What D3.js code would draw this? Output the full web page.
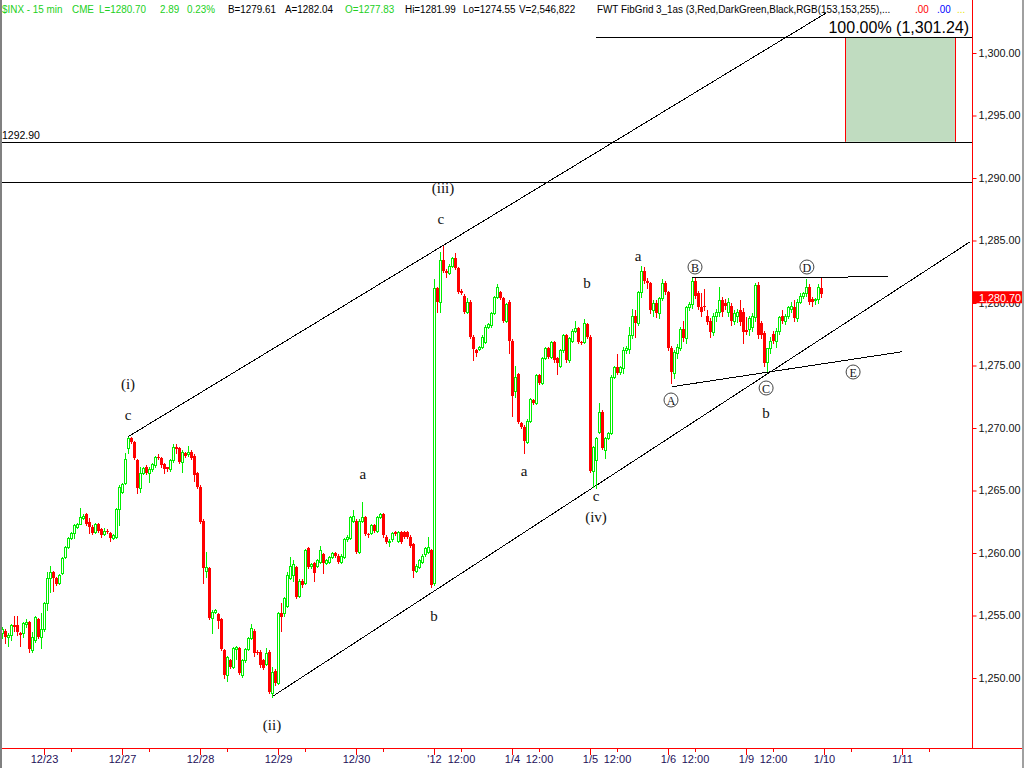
<!DOCTYPE html>
<html><head><meta charset="utf-8">
<script src="https://cdn.jsdelivr.net/npm/d3@7"></script>
<style>
body{margin:0;background:#fff}
svg{display:block;background:#fff}
text{font-family:"Liberation Sans",Arial,sans-serif}
.serif{font-family:"Liberation Serif","Times New Roman",serif}
</style>
</head><body>
<svg id="chart" width="1024" height="768"></svg>
<script>
// ---------- DATA (15-min bars, $INX, 12/22/2011 .. 1/9/2012) ----------
const opens = [
1253.6,1253.8,1253.3,1253.4,1254.2,1254.2,1253.6,1253.6,1254.3,1254.5,
1252.2,1253.0,1254.7,1253.3,1253.9,1256.0,1258.0,1258.5,1258.0,1257.6,
1258.4,1259.7,1260.5,1261.2,1261.6,1262.1,1262.3,1262.8,1263.1,1262.5,
1262.1,1261.7,1262.3,1261.9,1261.5,1261.8,1261.6,1261.2,1261.3,1263.5,
1264.9,1265.6,1268.4,1269.2,1268.9,1267.4,1265.2,1266.4,1266.9,1266.4,
1266.7,1267.0,1267.7,1267.6,1267.1,1266.85,1266.7,1267.4,1268.5,1268.4,
1267.3,1268.0,1267.9,1268.1,1267.8,1266.4,1265.3,1262.6,1258.6,1258.8,
1254.8,1255.3,1255.1,1254.7,1252.2,1250.2,1251.4,1250.9,1252.3,1252.4,
1250.2,1251.4,1252.3,1253.2,1253.8,1252.1,1252.1,1251.4,1251.1,1252.1,
1248.8,1250.6,1249.6,1255.2,1255.2,1255.8,1258.0,1258.2,1258.9,1256.6,
1257.8,1257.6,1260.4,1258.96,1259.2,1259.0,1259.3,1259.9,1259.2,1259.3,
1259.7,1260.0,1259.8,1259.3,1259.7,1261.1,1261.2,1262.6,1262.6,1260.1,
1262.6,1262.9,1261.5,1261.6,1262.2,1261.8,1262.9,1263.1,1261.3,1260.9,
1261.1,1261.65,1261.0,1261.7,1261.7,1261.7,1261.3,1260.7,1258.6,1258.9,
1259.3,1259.9,1260.1,1260.2,1257.6,1281.2,1280.1,1283.4,1282.6,1282.4,
1283.0,1283.6,1282.8,1281.0,1280.6,1279.3,1280.1,1277.3,1276.2,1276.3,
1276.5,1276.9,1278.1,1278.2,1279.2,1280.5,1280.9,1280.4,1278.6,1280.1,
1277.0,1273.0,1274.3,1270.4,1270.1,1268.9,1270.6,1272.2,1272.0,1274.2,
1273.6,1275.6,1276.4,1275.7,1276.9,1275.6,1275.0,1276.2,1277.4,1275.4,
1277.0,1277.8,1278.0,1276.9,1276.9,1278.3,1277.3,1266.6,1267.4,1269.7,
1271.3,1268.2,1269.2,1269.6,1274.1,1274.9,1274.5,1274.8,1276.2,1276.3,
1277.4,1279.0,1278.4,1280.9,1282.6,1281.8,1281.6,1279.4,1280.0,1279.2,
1280.4,1281.6,1280.9,1276.4,1274.4,1276.0,1276.4,1277.9,1277.2,1279.7,
1279.9,1281.8,1280.8,1279.7,1279.8,1279.0,1278.6,1277.7,1279.0,1279.3,
1280.2,1280.0,1279.3,1279.8,1278.6,1279.0,1279.4,1279.3,1277.83,1277.9,
1278.1,1278.9,1281.4,1278.4,1277.6,1275.3,1276.4,1277.5,1277.0,1277.8,
1279.0,1278.6,1279.0,1279.5,1279.7,1278.8,1280.1,1280.6,1280.8,1281.3,
1280.3,1280.2,1280.3,1281.2];
const highs = [
1254.1,1253.9,1253.6,1254.3,1255.0,1255.0,1253.7,1254.5,1254.7,1254.6,
1253.7,1255.0,1254.8,1255.2,1256.1,1258.5,1259.0,1258.6,1258.1,1258.3,
1259.7,1260.6,1261.3,1261.7,1262.3,1262.4,1263.6,1263.1,1263.2,1262.8,
1262.2,1262.4,1262.4,1262.0,1262.0,1261.9,1261.7,1261.5,1263.6,1265.4,
1265.6,1268.0,1269.3,1269.3,1269.0,1267.5,1266.9,1266.9,1267.0,1266.9,
1267.2,1267.8,1267.9,1267.7,1267.2,1266.9,1267.5,1268.7,1268.7,1268.5,
1268.2,1268.1,1268.6,1268.2,1267.9,1266.5,1265.4,1262.7,1260.1,1258.9,
1255.4,1255.5,1255.2,1254.8,1252.3,1251.8,1251.5,1252.5,1252.6,1252.5,
1251.5,1252.4,1253.3,1254.3,1253.9,1252.2,1252.2,1251.5,1252.4,1252.2,
1250.9,1250.7,1255.3,1256.0,1256.5,1258.5,1259.7,1259.4,1259.0,1257.9,
1257.9,1260.3,1260.5,1259.2,1259.3,1259.5,1260.6,1260.0,1259.5,1259.8,
1260.1,1260.1,1259.9,1259.9,1261.2,1261.4,1263.0,1263.4,1262.7,1262.7,
1264.1,1263.0,1261.6,1262.3,1262.3,1263.0,1263.2,1263.2,1261.4,1261.1,
1261.7,1261.8,1261.8,1261.8,1261.8,1261.8,1261.4,1260.8,1259.1,1259.5,
1259.9,1260.5,1261.3,1260.3,1281.9,1281.3,1284.1,1284.6,1282.7,1283.1,
1283.7,1284.0,1282.9,1281.1,1280.7,1280.4,1280.2,1277.4,1276.3,1276.6,
1277.4,1278.2,1278.4,1279.3,1280.6,1281.5,1281.0,1280.5,1280.0,1280.2,
1277.1,1275.0,1274.4,1270.5,1270.2,1270.7,1272.4,1272.3,1274.3,1274.3,
1275.7,1276.5,1276.5,1277.0,1277.0,1275.7,1276.3,1277.5,1277.5,1277.3,
1277.9,1278.6,1278.1,1277.0,1278.7,1278.4,1277.4,1268.6,1269.3,1272.0,
1271.4,1269.3,1269.7,1274.2,1275.0,1275.9,1275.0,1276.5,1276.6,1278.1,
1279.5,1279.4,1281.0,1283.0,1282.9,1282.0,1281.7,1280.2,1280.2,1280.5,
1281.9,1281.8,1281.0,1276.6,1276.2,1276.7,1278.1,1278.6,1279.8,1280.1,
1282.0,1282.0,1281.0,1280.8,1281.1,1279.4,1278.8,1279.2,1279.5,1281.3,
1280.5,1280.3,1280.4,1280.0,1279.4,1279.5,1280.2,1279.6,1278.9,1279.0,
1279.2,1281.6,1281.7,1278.6,1277.8,1276.4,1277.3,1277.8,1278.0,1279.0,
1279.4,1279.1,1279.8,1280.1,1280.2,1280.3,1280.8,1280.9,1281.9,1281.5,
1280.5,1280.4,1281.5,1281.99];
const lows = [
1253.2,1252.8,1252.6,1253.0,1253.8,1253.4,1252.6,1253.3,1254.1,1252.1,
1252.1,1252.9,1253.2,1252.4,1253.8,1255.4,1256.9,1257.0,1257.4,1257.5,
1258.3,1259.6,1260.4,1261.1,1261.2,1262.0,1262.3,1262.7,1262.2,1261.6,
1261.5,1261.6,1261.7,1261.3,1261.4,1261.6,1261.0,1261.1,1261.2,1262.2,
1264.8,1265.5,1268.0,1268.8,1267.5,1264.8,1264.9,1266.3,1266.3,1265.7,
1266.6,1266.9,1267.5,1266.9,1266.4,1266.6,1266.6,1267.3,1268.0,1267.2,
1266.5,1267.7,1267.8,1267.5,1265.8,1265.2,1262.4,1257.6,1258.1,1254.7,
1253.6,1255.2,1254.0,1252.2,1250.0,1249.8,1250.8,1250.8,1251.5,1250.3,
1250.1,1251.3,1252.2,1253.1,1251.8,1251.9,1250.9,1250.7,1251.0,1248.8,
1248.5,1249.4,1249.5,1253.8,1255.0,1255.7,1257.9,1257.8,1256.4,1256.5,
1257.3,1257.5,1258.8,1258.8,1257.8,1258.9,1259.2,1258.4,1259.1,1259.2,
1259.6,1259.7,1259.2,1259.2,1259.6,1261.0,1261.1,1262.5,1260.0,1260.0,
1262.5,1261.4,1261.3,1261.5,1261.7,1261.7,1262.8,1261.3,1260.8,1260.6,
1261.0,1261.4,1260.9,1260.8,1261.2,1261.2,1260.5,1258.1,1258.5,1258.8,
1259.2,1259.8,1260.0,1257.3,1257.4,1279.3,1279.3,1282.5,1282.1,1282.3,
1282.9,1282.7,1280.8,1280.7,1279.2,1279.2,1277.2,1275.4,1275.8,1276.2,
1276.4,1276.8,1278.0,1278.1,1279.1,1280.4,1280.3,1278.5,1278.5,1276.0,
1271.0,1272.5,1270.4,1270.0,1268.0,1268.8,1270.5,1271.9,1271.9,1273.5,
1273.5,1275.5,1275.6,1275.6,1275.3,1274.3,1274.9,1276.1,1275.3,1275.3,
1276.9,1277.7,1276.8,1276.7,1276.8,1277.2,1266.5,1265.3,1265.2,1269.6,
1268.3,1267.6,1269.1,1269.5,1274.0,1274.3,1274.3,1274.4,1276.0,1276.0,
1277.2,1277.3,1278.2,1280.5,1281.6,1281.2,1279.2,1279.0,1278.9,1278.8,
1280.2,1280.7,1276.2,1273.6,1274.0,1275.6,1276.2,1277.0,1276.8,1279.4,
1279.6,1280.4,1279.5,1279.0,1279.4,1278.3,1277.3,1277.4,1278.6,1279.0,
1279.0,1279.5,1279.0,1278.2,1278.3,1278.5,1278.2,1276.8,1277.5,1277.4,
1277.8,1278.6,1277.2,1277.2,1275.0,1274.55,1276.0,1276.8,1276.5,1277.5,
1278.4,1278.3,1278.8,1279.3,1278.6,1278.6,1280.0,1280.4,1280.6,1279.9,
1279.8,1279.9,1280.0,1280.5];
const closes = [
1253.9,1253.3,1253.4,1254.2,1254.1,1253.7,1253.4,1254.4,1254.5,1252.3,
1253.3,1254.9,1253.3,1253.9,1256.0,1258.0,1258.5,1258.0,1257.5,1258.2,
1259.6,1260.5,1261.2,1261.6,1262.2,1262.3,1262.9,1263.0,1262.3,1262.1,
1261.6,1262.3,1261.8,1261.4,1261.8,1261.7,1261.2,1261.4,1263.5,1265.3,
1265.5,1267.5,1269.2,1268.9,1267.6,1265.2,1266.4,1266.8,1266.4,1266.7,
1267.1,1267.7,1267.6,1267.0,1266.7,1266.7,1267.4,1268.5,1268.3,1267.3,
1268.1,1267.8,1268.1,1267.6,1266.2,1265.3,1262.5,1258.8,1258.9,1254.8,
1255.3,1255.4,1254.6,1252.3,1250.2,1251.7,1250.9,1252.4,1252.5,1250.4,
1251.4,1252.3,1253.2,1254.0,1252.0,1252.0,1251.0,1250.8,1252.0,1248.9,
1250.5,1249.6,1255.2,1254.9,1256.4,1258.2,1259.0,1259.1,1256.5,1257.8,
1257.4,1260.2,1258.9,1259.1,1258.4,1259.4,1260.2,1259.2,1259.4,1259.7,
1260.0,1259.8,1259.3,1259.8,1261.1,1261.3,1262.9,1263.0,1260.1,1262.6,
1262.9,1261.5,1261.4,1262.2,1261.8,1262.9,1263.1,1261.4,1260.9,1261.0,
1261.6,1261.5,1261.7,1260.9,1261.3,1261.3,1260.6,1258.6,1259.0,1259.4,
1259.8,1260.4,1260.5,1257.4,1281.2,1280.1,1283.4,1282.6,1282.4,1283.0,
1283.6,1282.8,1280.9,1280.8,1279.3,1280.1,1277.3,1276.3,1276.0,1276.5,
1277.3,1278.1,1278.3,1279.2,1280.5,1281.3,1280.4,1278.6,1279.9,1277.0,
1272.6,1274.1,1270.5,1270.1,1269.0,1270.6,1272.3,1272.0,1274.2,1273.6,
1275.6,1276.4,1275.7,1276.9,1275.4,1275.2,1276.2,1277.4,1275.4,1277.2,
1277.8,1278.0,1276.9,1276.8,1278.4,1277.3,1266.6,1268.5,1269.2,1271.3,
1268.4,1269.2,1269.6,1274.1,1274.9,1274.4,1274.9,1276.2,1276.4,1277.4,
1279.0,1278.4,1280.9,1282.6,1281.8,1281.6,1279.4,1280.0,1279.2,1280.4,
1281.6,1280.9,1276.4,1274.5,1276.1,1276.5,1277.9,1277.2,1279.7,1279.9,
1281.8,1280.6,1279.7,1279.3,1279.7,1278.5,1277.7,1279.0,1279.3,1280.2,
1279.3,1279.8,1280.1,1278.6,1279.2,1279.3,1278.5,1277.7,1277.7,1278.8,
1279.0,1281.4,1277.4,1277.4,1275.2,1276.4,1277.0,1277.0,1277.8,1278.9,
1278.6,1279.0,1279.7,1279.8,1278.8,1280.1,1280.6,1280.8,1281.3,1280.1,
1280.1,1280.3,1281.3,1280.70];

// axis ticks
const priceTicks = [1250,1255,1260,1265,1270,1275,1280,1285,1290,1295,1300];
const dayStartBars = [14,40,66,92,118,144,170,196,222,248,274,300];
const dayLabels = ["12/23","12/27","12/28","12/29","12/30","'12","1/4","1/5","1/6","1/9","1/10","1/11"];
const noonBars = [23,49,75,101,127,153,179,205,231,257,283,309];
const noonLabels = ["","","","","","12:00","12:00","12:00","12:00","12:00","",""];

// drawing annotations (bar index, price)
const trendLines = [
  {i1:42, p1:1269.3, i2:274.7, p2:1303.2},   // upper channel
  {i1:90, p1:1248.5, i2:322.7, p2:1284.9},   // lower channel
  {i1:223.3, p1:1273.3, i2:300, p2:1276.1},  // triangle lower
  {i1:230, p1:1282.0, i2:295.3, p2:1282.1}   // triangle upper
];
const fibLevels = [1301.24, 1292.90];
const fibBox = {i1:281, i2:317.67};
const hLine2 = 1289.68;
const waveLabels = [
  {t:"(i)",i:42,p:1273.52},{t:"c",i:42,p:1271.04},
  {t:"a",i:120.3,p:1266.32},{t:"(ii)",i:90,p:1246.24},
  {t:"b",i:144,p:1254.96},{t:"(iii)",i:147,p:1289.2},
  {t:"c",i:146.3,p:1286.72},{t:"b",i:195,p:1281.6},
  {t:"a",i:174,p:1266.56},{t:"c",i:198,p:1264.56},
  {t:"(iv)",i:198,p:1262.88},{t:"a",i:212,p:1283.76},
  {t:"b",i:254.7,p:1271.2}
];
const circleLabels = [
  {t:"A",i:223,p:1272.24},{t:"B",i:231,p:1282.88},
  {t:"C",i:254.7,p:1273.2},{t:"D",i:268.3,p:1282.88},
  {t:"E",i:283.7,p:1274.48}
];
const headerParts = [
  {t:"$INX - 15 min",x:2,c:"#22d022"},{t:"CME",x:72,c:"#22d022"},
  {t:"L=1280.70",x:99,c:"#22d022"},{t:"2.89",x:160,c:"#22d022"},
  {t:"0.23%",x:187,c:"#22d022"},{t:"B=1279.61",x:228,c:"#000"},
  {t:"A=1282.04",x:285,c:"#000"},{t:"O=1277.83",x:345,c:"#22d022"},
  {t:"Hi=1281.99",x:405,c:"#000"},{t:"Lo=1274.55",x:463,c:"#000"},
  {t:"V=2,546,822",x:519,c:"#000"},
  {t:"FWT FibGrid 3_1as (3,Red,DarkGreen,Black,RGB(153,153,255),...",x:597,c:"#000"},
  {t:".00",x:915,c:"#ff0000"},{t:".00",x:937,c:"#0000ff"},{t:"...",x:957,c:"#e8e800"}
];
const lastPrice = 1280.70;

// ---------- CHART ----------
const svg = d3.select("#chart");
const W = 1024, H = 768, axisX = 972, axisY = 748;
const x = d3.scaleLinear().domain([0, 323.3333]).range([2, 972]);
const y = d3.scaleLinear().domain([1250, 1300]).range([678, 53]);
const GREEN = "#00ee00", RED = "#ff0000";

// fib box
svg.append("rect").attr("x", x(fibBox.i1)).attr("y", y(fibLevels[0]))
  .attr("width", x(fibBox.i2) - x(fibBox.i1)).attr("height", y(fibLevels[1]) - y(fibLevels[0]))
  .attr("fill", "#c0dcc0");
[fibBox.i1, fibBox.i2].forEach(b => svg.append("line")
  .attr("x1", Math.round(x(b)) + 0.5).attr("x2", Math.round(x(b)) + 0.5)
  .attr("y1", y(fibLevels[0])).attr("y2", y(fibLevels[1]))
  .attr("stroke", RED).attr("stroke-width", 1));

// horizontal lines
function hline(p, x1, x2) {
  const yy = Math.round(y(p)) + 0.5;
  svg.append("line").attr("x1", x1).attr("x2", x2).attr("y1", yy).attr("y2", yy)
    .attr("stroke", "#000").attr("stroke-width", 1);
}
hline(fibLevels[0], x(198), axisX);
hline(fibLevels[1], 0, axisX);
hline(hLine2, 0, axisX);

svg.append("text").attr("x", 2).attr("y", 139).attr("font-size", "10.5px").attr("fill", "#000")
  .text(d3.format(".2f")(fibLevels[1]));
svg.append("text").attr("x", 969).attr("y", 33).attr("text-anchor", "end")
  .attr("font-size", "16px").attr("fill", "#000")
  .text("100.00% (" + d3.format(",.2f")(fibLevels[0]) + ")");

// trend lines
svg.append("g").selectAll("line").data(trendLines).join("line")
  .attr("x1", d => x(d.i1)).attr("y1", d => y(d.p1))
  .attr("x2", d => x(d.i2)).attr("y2", d => y(d.p2))
  .attr("stroke", "#000").attr("stroke-width", 1).attr("shape-rendering", "crispEdges");

// candles
const bars = d3.range(closes.length).map(i => ({i, o: opens[i], h: highs[i], l: lows[i], c: closes[i]}));
const cg = svg.append("g").attr("shape-rendering", "crispEdges");
const cand = cg.selectAll("g").data(bars).join("g");
cand.append("line")
  .attr("x1", d => Math.round(x(d.i)) + 0.5).attr("x2", d => Math.round(x(d.i)) + 0.5)
  .attr("y1", d => Math.round(y(d.h))).attr("y2", d => Math.round(y(d.l)) + 1)
  .attr("stroke", d => d.c >= d.o ? GREEN : RED).attr("stroke-width", 1);
cand.append("rect")
  .attr("x", d => d.c >= d.o ? Math.round(x(d.i)) - 0.5 : Math.round(x(d.i)) - 1)
  .attr("y", d => { const t = Math.round(y(Math.max(d.o, d.c))); return d.c >= d.o ? t + 0.5 : t; })
  .attr("width", d => d.c >= d.o ? 2 : 3)
  .attr("height", d => Math.max(1, Math.round(y(Math.min(d.o, d.c))) - Math.round(y(Math.max(d.o, d.c)))))
  .attr("fill", d => d.c >= d.o ? "#fff" : RED)
  .attr("stroke", d => d.c >= d.o ? GREEN : "none")
  .attr("stroke-width", 1);

// wave labels
svg.append("g").selectAll("text").data(waveLabels).join("text")
  .attr("class", "serif").attr("x", d => x(d.i)).attr("y", d => y(d.p))
  .attr("text-anchor", "middle").attr("dominant-baseline", "central")
  .attr("font-size", "15px").attr("fill", "#111").text(d => d.t);
const cl = svg.append("g").selectAll("g").data(circleLabels).join("g")
  .attr("transform", d => `translate(${x(d.i)},${y(d.p)})`);
cl.append("circle").attr("r", 7).attr("fill", "none").attr("stroke", "#444").attr("stroke-width", 1);
cl.append("text").attr("class", "serif").attr("text-anchor", "middle").attr("dominant-baseline", "central")
  .attr("y", 0.5).attr("font-size", "12px").attr("fill", "#111").text(d => d.t);

// right axis
const ra = svg.append("g").attr("transform", `translate(${axisX + 0.5},0)`)
  .call(d3.axisRight(y).tickValues(priceTicks).tickFormat(d3.format(",.2f")).tickSize(4).tickPadding(2));
ra.select(".domain").remove();
ra.selectAll(".tick line").attr("stroke", RED);
ra.selectAll(".tick text").attr("fill", "#111").attr("font-size", "10.8px")
  .attr("font-family", "'Liberation Sans',Arial,sans-serif");
svg.append("line").attr("x1", axisX + 0.5).attr("x2", axisX + 0.5).attr("y1", 0).attr("y2", axisY)
  .attr("stroke", RED).attr("stroke-width", 1);

// last price marker
const ly = y(lastPrice);
svg.append("rect").attr("x", axisX + 1).attr("y", ly - 3).attr("width", W - axisX - 1).attr("height", 12).attr("fill", RED);
svg.append("text").attr("x", 979).attr("y", ly + 7.5).attr("font-size", "10.8px").attr("fill", "#fff")
  .text(d3.format(",.2f")(lastPrice));

// bottom axis
const ba = svg.append("g").attr("transform", `translate(0,${axisY + 0.5})`)
  .call(d3.axisBottom(x).tickValues(dayStartBars).tickFormat((d, k) => dayLabels[k]).tickSize(6).tickPadding(1));
ba.select(".domain").remove();
const bn = svg.append("g").attr("transform", `translate(0,${axisY + 0.5})`)
  .call(d3.axisBottom(x).tickValues(noonBars).tickFormat((d, k) => noonLabels[k]).tickSize(3).tickPadding(4));
bn.select(".domain").remove();
[ba, bn].forEach(g => {
  g.selectAll(".tick line").attr("stroke", RED).attr("shape-rendering", "crispEdges");
  g.selectAll(".tick text").attr("fill", "#1e0f5a").attr("font-size", "11px")
    .attr("font-family", "'Liberation Sans',Arial,sans-serif");
});
svg.append("line").attr("x1", 0).attr("x2", W).attr("y1", axisY + 0.5).attr("y2", axisY + 0.5)
  .attr("stroke", RED).attr("stroke-width", 1);

// header (slightly condensed, tall glyphs)
svg.append("g").selectAll("text").data(headerParts).join("text")
  .attr("transform", d => `translate(${d.x},13) scale(0.86,1)`)
  .attr("font-size", "11.5px").attr("fill", d => d.c).text(d => d.t);

// window borders
svg.append("rect").attr("x", 0).attr("y", 0).attr("width", 2).attr("height", H).attr("fill", "#808080");
svg.append("rect").attr("x", W - 2).attr("y", 0).attr("width", 2).attr("height", H).attr("fill", "#a0a0a0");
</script>
</body></html>
